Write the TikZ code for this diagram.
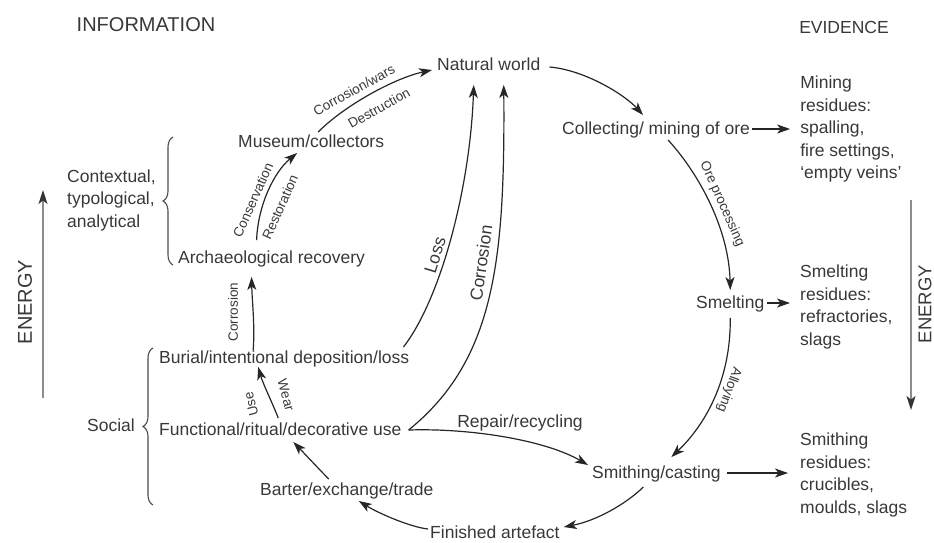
\documentclass[tikz,border=0pt]{standalone}
\usepackage{fontspec}
\setmainfont{Liberation Sans}
\usepackage{xcolor}
\usepackage{tikz}
\usetikzlibrary{positioning, arrows.meta, calc, decorations.pathreplacing}
\definecolor{ink}{HTML}{383838}
\definecolor{nrggray}{HTML}{8C8C8C}
\tikzstyle{st}=[%
      anchor=west, inner sep=0pt, text=ink, font=\fontsize{17.5}{22.5}\selectfont,
      text height=13pt, text depth=2.5pt
]
\tikzstyle{ev}=[%
      anchor=west, inner sep=0pt, text=ink, font=\fontsize{17.5}{22.5}\selectfont,
      align=left
]
\tikzstyle{hd}=[%
      inner sep=0pt, text=ink, font=\fontsize{20}{24}\selectfont
]
\tikzstyle{sl}=[%
      inner sep=0pt, text=ink, font=\fontsize{13.5}{16}\selectfont
]
\tikzstyle{ml}=[%
      inner sep=0pt, text=ink, font=\fontsize{17.5}{21}\selectfont
]
\tikzstyle{flow}=[%
      draw=black!85, line width=1.2pt
]
\tikzstyle{nrg}=[%
      draw=nrggray, line width=1.6pt, -{Stealth[length=14pt,width=9pt,inset=3.5pt,color=black!80]}
]
\tikzstyle{brc}=[%
      -, draw=ink!90, line width=1.1pt, decorate, decoration={brace, amplitude=10pt}
]

\begin{document}
\begin{tikzpicture}[x=1pt, y=-1pt,
    -{Stealth[length=13pt,width=9pt,inset=3.5pt]}
  ]
    \useasboundingbox (0,0) rectangle (934,542);

    \node[hd]  (info) at (146,25)  {INFORMATION};
    \node[ml]  (evid) at (844,27)  {EVIDENCE};

    \node[st]  (nw)   at (437,65)  {Natural world};
    \node[st]  (cm)   at (562,129) {Collecting/ mining of ore};
    \node[st]  (sm)   at (696,303) {Smelting};
    \node[st]  (sc)   at (592,473) {Smithing/casting};
    \node[st]  (fa)   at (430,533) {Finished artefact};
    \node[st]  (bt)   at (260,490) {Barter/exchange/trade};
    \node[st]  (fu)   at (159,430) {Functional/ritual/decorative use};
    \node[st]  (bu)   at (159,358) {Burial/intentional deposition/loss};
    \node[st]  (ar)   at (178,258) {Archaeological recovery};
    \node[st]  (mu)   at (238,142) {Museum/collectors};
    \node[st]  (soc)  at (87,426)  {Social};
    \node[ev]  (ctx)  at (67,200)  {Contextual,\\typological,\\analytical};

    \node[ev]  (mr)   [right = 50pt of cm] {Mining\\residues:\\spalling,\\fire settings,\\‘empty veins’};
    \node[ev]  (smr)  at (800,307) {Smelting\\residues:\\refractories,\\slags};
    \node[ev]  (sir)  at (800,475) {Smithing\\residues:\\crucibles,\\moulds, slags};

    % production side
    \draw[flow] ($(nw.east)+(9,2)$) .. controls (585,70) and (625,95) .. ($(cm.north)+(-13,-6)$);
    \draw[flow] ($(cm.south)+(12,3)$) .. controls (700,175) and (729,230) .. ($(sm.north)+(0,-5)$);
    \draw[flow] ($(sm.south)+(0,7)$) .. controls (731,380) and (705,425) .. ($(sc.north)+(15,-8)$);
    \draw[flow] ($(sc.south)+(-13,6)$) .. controls (625,505) and (595,521) .. ($(fa.east)+(4,-6)$);
    \draw[flow] ($(cm.east)+(2,0)$) -- ($(mr.west)+(-10,0)$);
    \draw[flow] ($(sm.east)+(3,0)$) -- ($(smr.west)+(-10,-4)$);
    \draw[flow] ($(sc.east)+(6,0)$) -- ($(sir.west)+(-12,-2)$);
    \node[sl, rotate=-66]  (lop) at (722,204) {Ore processing};
    \node[sl, rotate=-110] (lal) at (729,390) {Alloying};

    % use side
    \draw[flow] ($(fa.west)+(-2,-4)$) .. controls (410,527) and (378,513) .. ($(bt.south)+(12,3)$);
    \draw[flow] ($(bt.north)+(-18,-3)$) .. controls (316,466) and (303,452) .. ($(fu.south)+(13,4)$);
    \draw[flow] ($(fu.north)+(-2,-4)$) .. controls (272,402) and (263,384) .. ($(bu.south)+(-26,1)$);
    \draw[flow] ($(bu.north)+(-31,0)$) .. controls (255,325) and (252,300) .. ($(ar.south)+(-20,11)$);
    \draw[flow] ($(ar.north)+(-15,-10)$) .. controls (258,205) and (274,172) .. ($(mu.south)+(-14,3)$);
    \draw[flow] ($(mu.north)+(7,-2)$) .. controls (345,105) and (395,78) .. ($(nw.west)+(-5,5)$);
    \node[sl, rotate=105] (luse) at (251,404) {Use};
    \node[sl, rotate=-75] (lwea) at (286,395) {Wear};
    \node[sl, rotate=90]  (lcor) at (233,312) {Corrosion};
    \node[sl, rotate=66]  (lcon) at (253,200) {Conservation};
    \node[sl, rotate=66]  (lres) at (280,207) {Restoration};
    \node[sl, rotate=29]  (lcw)  at (354,90)  {Corrosion/wars};
    \node[sl, rotate=29]  (ldes) at (379,108) {Destruction};

    % back to nature / recycling
    \draw[flow] ($(bu.north east)+(-6,-3)$) .. controls (440,300) and (470,190) .. ($(nw.south)+(-15,12)$);
    \draw[flow] ($(fu.east)+(7,0)$) .. controls (495,360) and (505,260) .. ($(nw.south)+(15,12)$);
    \draw[flow] ($(fu.east)+(7,0)$) .. controls (470,428) and (545,440) .. ($(sc.west)+(-4,-8)$);
    \node[ml, rotate=73] (lloss) at (435,255) {Loss};
    \node[ml, rotate=82] (lcorr) at (481,263) {Corrosion};
    \node[ml]            (lrep)  at (520,423) {Repair/recycling};

    % braces
    \coordinate (b1s) at (173,265);
    \coordinate (b1e) at (173,137);
    \coordinate (b2s) at (153,505);
    \coordinate (b2e) at (153,348);
    \draw[brc] (b1s) -- (b1e);
    \draw[brc] (b2s) -- (b2e);

    % energy
    \coordinate (el0) at (43,398);
    \coordinate (el1) at (43,190);
    \coordinate (er0) at (911,200);
    \coordinate (er1) at (911,410);
    \draw[nrg] (el0) -- (el1);
    \draw[nrg] (er0) -- (er1);
    \node[hd, rotate=90] (enl) at (25,302) {ENERGY};
    \node[hd, rotate=90, font=\fontsize{18.5}{22}\selectfont] (enr) at (925,304) {ENERGY};
  \end{tikzpicture}
\end{document}
